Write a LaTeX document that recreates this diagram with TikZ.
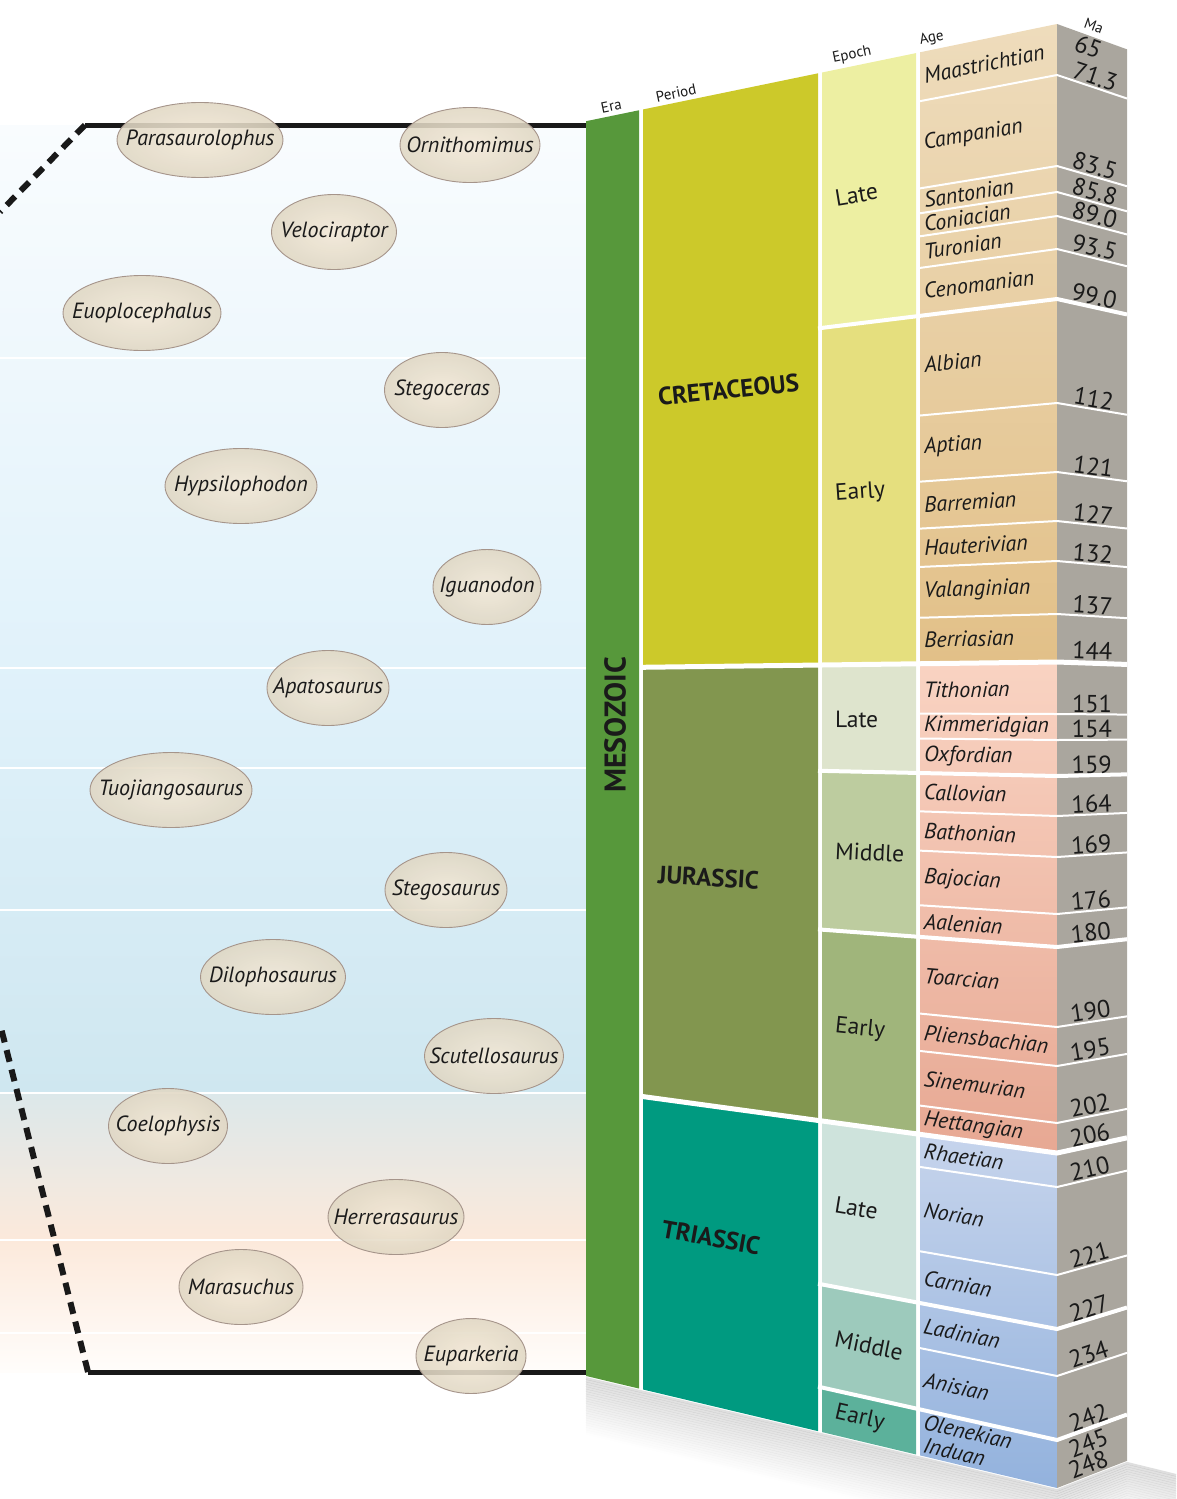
\documentclass[tikz,border=0pt]{standalone}
\usepackage{fontspec}
\setmainfont{PT Sans}
\usetikzlibrary{positioning,shapes.geometric}

\definecolor{txt}{HTML}{1A1A1A}
\definecolor{eracol}{HTML}{57983B}
\definecolor{cretacol}{HTML}{CCC92A}
\definecolor{juracol}{HTML}{82964F}
\definecolor{triascol}{HTML}{009A80}
\definecolor{lateK}{HTML}{EDEFA2}
\definecolor{earlyK}{HTML}{E5DF7E}
\definecolor{lateJ}{HTML}{DEE4CD}
\definecolor{midJ}{HTML}{BDCC9F}
\definecolor{earlyJ}{HTML}{A0B57B}
\definecolor{lateT}{HTML}{CEE3DC}
\definecolor{midT}{HTML}{9DCABC}
\definecolor{earlyT}{HTML}{5CB19B}
\definecolor{ageKtop}{HTML}{EEDCBC}
\definecolor{ageKbot}{HTML}{E2C088}
\definecolor{ageJtop}{HTML}{F9D3C2}
\definecolor{ageJbot}{HTML}{E7A893}
\definecolor{ageTtop}{HTML}{C6D4EC}
\definecolor{ageTbot}{HTML}{93B2DD}
\definecolor{macol}{HTML}{AAA69E}
\definecolor{bgA}{HTML}{F9FCFE}
\definecolor{bgB}{HTML}{DFF1FA}
\definecolor{bgC}{HTML}{CFE7F0}
\definecolor{bgD}{HTML}{DCE8EA}
\definecolor{bgE}{HTML}{FCE9DB}
\definecolor{bgF}{HTML}{FFFDFB}
\definecolor{dinoin}{HTML}{F3E8D6}
\definecolor{dinoout}{HTML}{E0D7C3}
\definecolor{dinoedge}{HTML}{A5948A}

% height on the front face at x, for a line that meets the Ma corner at height #2
\newcommand\fronty[2]{(704+((#2)-704)*(((#1)+2238)/3295))}
% the same on the Ma side face
\newcommand\sidey[2]{((#2)+(((#1)-1057)/1950)*(730-(#2)))}
\newcommand\tilt[1]{atan((704-(#1))/3295)}
\newcommand\sidetilt[1]{-atan((730-(#1))/1950)}
\newcommand\facecell[5]{\fill[#1] (#2,{\fronty{#2}{#4}}) -- (#3,{\fronty{#3}{#4}}) -- (#3,{\fronty{#3}{#5}}) -- (#2,{\fronty{#2}{#5}}) -- cycle;}
\newcommand\dname[1]{\makebox[0pt]{#1}}

\begin{document}
\begin{tikzpicture}[
    x=1pt, y=-1pt,
    dino/.style = {ellipse, draw=dinoedge, line width=0.9pt, inner color=dinoin, outer color=dinoout,
                   fill opacity=0.88, text opacity=1, minimum height=75pt, inner sep=0pt, text=txt,
                   font=\itshape\fontsize{22}{26}\selectfont},
    agelbl/.style = {anchor=west, inner sep=0pt, text=txt, font=\itshape\fontsize{22}{26}\selectfont},
    epochlbl/.style = {anchor=west, inner sep=0pt, text=txt, font=\fontsize{23.5}{28}\selectfont},
    perlbl/.style = {anchor=west, inner sep=0pt, text=txt, font=\bfseries\fontsize{25}{28}\selectfont},
    malbl/.style = {anchor=south, inner sep=1.5pt, text=txt, font=\fontsize{24.5}{28}\selectfont},
    hdr/.style = {anchor=south west, inner sep=0pt, text=txt, font=\fontsize{15}{17}\selectfont},
    bandline/.style = {white, line width=2.5pt},
    ageline/.style = {white, line width=2pt},
    epochline/.style = {white, line width=4pt},
    periodline/.style = {white, line width=5pt},
    rangeline/.style = {black!90, line width=5pt},
    rangedash/.style = {black!90, line width=6pt, dash pattern=on 12pt off 8pt}
]
\useasboundingbox (0,0) rectangle (1176,1499);

% left panel
\shade[top color=bgA, bottom color=bgB] (0,125) rectangle (586,700);
\shade[top color=bgB, bottom color=bgC] (0,700) rectangle (586,1093);
\shade[top color=bgD, bottom color=bgE] (0,1093) rectangle (586,1240);
\shade[top color=bgE, bottom color=bgF] (0,1240) rectangle (586,1372);
\foreach \y in {358,668,768,910,1093,1240,1333}
    \draw[bandline] (0,\y) -- (586,\y);

\coordinate (topend) at (586,125);
\coordinate (topcorner) at (85,125);
\coordinate (topout) at (0,212);
\coordinate (botend) at (586,1372);
\coordinate (botcorner) at (88,1372);
\coordinate (botout) at (0,1024);
\draw[rangeline] (topcorner) -- (topend);
\draw[rangeline] (botcorner) -- (botend);
\draw[rangedash] (topcorner) -- (topout);
\draw[rangedash] (botcorner) -- (botout);

% shadow under the column
\foreach \d in {1,...,24}
    \draw[black, opacity={0.13*(1-\d/25)}, line width=2.6pt]
        (586,{\fronty{586}{1488}+2.4*\d}) -- (1057,{1488+2.4*\d})
        -- (1127,{\sidey{1127}{1488}+2.4*\d}) -- (1176,{\sidey{1127}{1488}+2.4*\d+12});

% era and periods
\facecell{eracol}{586}{639}{24}{1488}
\facecell{cretacol}{643}{818}{24}{660}
\facecell{juracol}{643}{818}{664}{1153}
\facecell{triascol}{643}{818}{1153}{1488}

% epochs
\facecell{lateK}{822}{916}{24}{299}
\facecell{earlyK}{822}{916}{299}{660}
\facecell{lateJ}{822}{916}{664}{776}
\facecell{midJ}{822}{916}{776}{947}
\facecell{earlyJ}{822}{916}{947}{1153}
\facecell{lateT}{822}{916}{1153}{1329}
\facecell{midT}{822}{916}{1329}{1440}
\facecell{earlyT}{822}{916}{1440}{1488}

% ages
\shade[top color=ageKtop, bottom color=ageKbot] (920,{\fronty{920}{24}}) -- (1057,24) -- (1057,660) -- (920,{\fronty{920}{660}}) -- cycle;
\shade[top color=ageJtop, bottom color=ageJbot] (920,{\fronty{920}{664}}) -- (1057,664) -- (1057,1153) -- (920,{\fronty{920}{1153}}) -- cycle;
\shade[top color=ageTtop, bottom color=ageTbot] (920,{\fronty{920}{1153}}) -- (1057,1153) -- (1057,1488) -- (920,{\fronty{920}{1488}}) -- cycle;

% Ma side face
\fill[macol] (1057,24) -- (1127,{\sidey{1127}{24}}) -- (1127,{\sidey{1127}{1488}}) -- (1057,1488) -- cycle;

% boundaries
\foreach \yc in {75,166,192,216,249,403,472,521,561,614,714,740,816,857,914,1027,1066,1123,1187,1275,1376}
    \draw[ageline] (920,{\fronty{920}{\yc}}) -- (1057,\yc) -- (1127,{\sidey{1127}{\yc}});
\foreach \yc in {299,776,947,1329,1440}
    \draw[epochline] (818,{\fronty{818}{\yc}}) -- (1057,\yc) -- (1127,{\sidey{1127}{\yc}});
\foreach \yc in {662,1153}
    \draw[periodline] (641,{\fronty{641}{\yc}}) -- (1057,\yc) -- (1127,{\sidey{1127}{\yc}});

% headers
\node[hdr, rotate={\tilt{24}}] (h-era) at (602,{\fronty{602}{24}-4}) {Era};
\node[hdr, rotate={\tilt{24}}] (h-period) at (657,{\fronty{657}{24}-4}) {Period};
\node[hdr, rotate={\tilt{24}}] (h-epoch) at (834,{\fronty{834}{24}-4}) {Epoch};
\node[hdr, rotate={\tilt{24}}] (h-age) at (921,{\fronty{921}{24}-4}) {Age};
\node[hdr, anchor=south, rotate={\sidetilt{24}}] (h-ma) at (1092,{\sidey{1092}{24}-6}) {Ma};

% era and period names
\node[text=txt, font=\bfseries\fontsize{30}{32}\selectfont, rotate=90] (mesozoic) at (615,725) {MESOZOIC};
\node[perlbl, rotate={\tilt{355}}] (cretaceous) at (658,{\fronty{658}{355}}) {CRETACEOUS};
\node[perlbl, rotate={\tilt{898}}] (jurassic) at (658,{\fronty{658}{898}}) {JURASSIC};
\node[perlbl, rotate={\tilt{1300}}] (triassic) at (662,{\fronty{662}{1300}}) {TRIASSIC};

% epoch names
\foreach \nm/\ya/\yb [count=\i] in {Late/24/299, Early/299/660, Late/664/776, Middle/776/947, Early/947/1153, Late/1153/1329, Middle/1329/1440, Early/1440/1488}
    \node[epochlbl, rotate={\tilt{(\ya+\yb)/2}}] (epoch\i) at (835,{\fronty{835}{(\ya+\yb)/2}}) {\nm};

% age names
\foreach \nm/\ya/\yb in {Maastrichtian/24/75, Campanian/75/166, Santonian/166/192, Coniacian/192/216, Turonian/216/249, Cenomanian/249/299, Albian/299/403, Aptian/403/472, Barremian/472/521, Hauterivian/521/561, Valanginian/561/614, Berriasian/614/660, Tithonian/664/714, Kimmeridgian/714/740, Oxfordian/740/776, Callovian/776/816, Bathonian/816/857, Bajocian/857/914, Aalenian/914/947, Toarcian/947/1027, Pliensbachian/1027/1066, Sinemurian/1066/1123, Hettangian/1123/1153, Rhaetian/1153/1187, Norian/1187/1275, Carnian/1275/1329, Ladinian/1329/1376, Anisian/1376/1440}
    \node[agelbl, rotate={\tilt{(\ya+\yb)/2}}] (age-\nm) at (924,{\fronty{924}{(\ya+\yb)/2}}) {\nm};
\node[agelbl, rotate={\tilt{1452}}] (age-Olenekian) at (924,{\fronty{924}{1452}}) {Olenekian};
\node[agelbl, rotate={\tilt{1476}}] (age-Induan) at (924,{\fronty{924}{1476}}) {Induan};

% Ma values
\node[malbl, anchor=north, rotate={\sidetilt{24}}] (ma0) at (1092,{\sidey{1092}{24}}) {65};
\foreach \v/\yc [count=\i] in {71.3/75, 83.5/166, 85.8/192, 89.0/216, 93.5/249, 99.0/299, 112/403, 121/472, 127/521, 132/561, 137/614, 144/660, 151/714, 154/740, 159/776, 164/816, 169/857, 176/914, 180/947, 190/1027, 195/1066, 202/1123, 206/1153, 210/1187, 221/1275, 227/1329, 234/1376, 242/1440, 245/1466, 248/1488}
    \node[malbl, rotate={\sidetilt{\yc}}] (ma\i) at (1092,{\sidey{1092}{\yc}}) {\v};

% dinosaurs
\node[dino, minimum width=166pt] (parasaurolophus) at (200,140) {\dname{Parasaurolophus}};
\node[dino, minimum width=140pt] (ornithomimus) at (470,145) {\dname{Ornithomimus}};
\node[dino, minimum width=125pt] (velociraptor) at (334,232) {\dname{Velociraptor}};
\node[dino, minimum width=158pt] (euoplocephalus) at (142,313) {\dname{Euoplocephalus}};
\node[dino, minimum width=115pt] (stegoceras) at (442,390) {\dname{Stegoceras}};
\node[dino, minimum width=152pt] (hypsilophodon) at (241,486) {\dname{Hypsilophodon}};
\node[dino, minimum width=108pt] (iguanodon) at (487,587) {\dname{Iguanodon}};
\node[dino, minimum width=122pt] (apatosaurus) at (328,688) {\dname{Apatosaurus}};
\node[dino, minimum width=162pt] (tuojiangosaurus) at (171,790) {\dname{Tuojiangosaurus}};
\node[dino, minimum width=122pt] (stegosaurus) at (446,890) {\dname{Stegosaurus}};
\node[dino, minimum width=145pt] (dilophosaurus) at (273,977) {\dname{Dilophosaurus}};
\node[dino, minimum width=139pt] (scutellosaurus) at (494,1056) {\dname{Scutellosaurus}};
\node[dino, minimum width=119pt] (coelophysis) at (168,1126) {\dname{Coelophysis}};
\node[dino, minimum width=136pt] (herrerasaurus) at (396,1217) {\dname{Herrerasaurus}};
\node[dino, minimum width=124pt] (marasuchus) at (241,1287) {\dname{Marasuchus}};
\node[dino, minimum width=110pt] (euparkeria) at (471,1356) {\dname{Euparkeria}};
\end{tikzpicture}
\end{document}
